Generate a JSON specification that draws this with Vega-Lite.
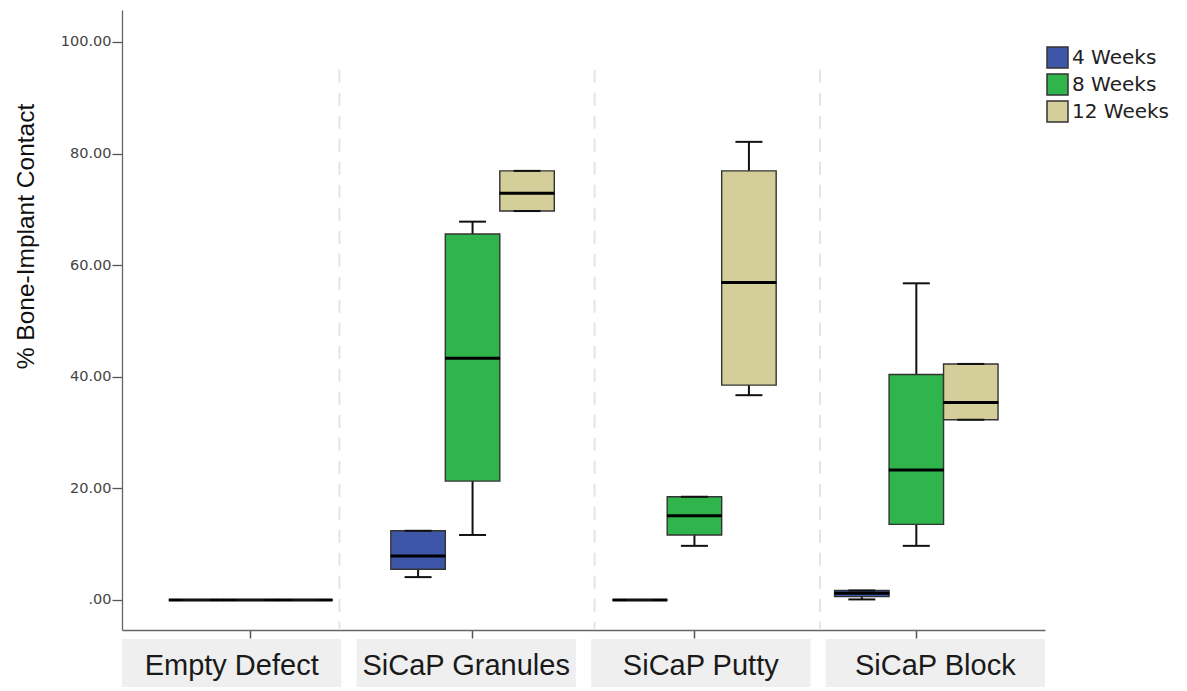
{
  "$schema": "https://vega.github.io/schema/vega-lite/v6.json",
  "width": 923,
  "height": 620,
  "autosize": {"type": "none"},
  "padding": {"left": 122, "top": 10, "right": 142, "bottom": 61},
  "background": "white",
  "config": {
    "view": {"stroke": null},
    "axis": {"grid": false}
  },
  "datasets": {
    "boxes": [
      {"group": "Empty Defect", "week": "4 Weeks", "low": 0, "q1": 0, "median": 0, "q3": 0, "high": 0},
      {"group": "Empty Defect", "week": "8 Weeks", "low": 0, "q1": 0, "median": 0, "q3": 0, "high": 0},
      {"group": "Empty Defect", "week": "12 Weeks", "low": 0, "q1": 0, "median": 0, "q3": 0, "high": 0},
      {"group": "SiCaP Granules", "week": "4 Weeks", "low": 4.1, "q1": 5.5, "median": 7.9, "q3": 12.4, "high": 12.4},
      {"group": "SiCaP Granules", "week": "8 Weeks", "low": 11.65, "q1": 21.3, "median": 43.3, "q3": 65.6, "high": 67.8},
      {"group": "SiCaP Granules", "week": "12 Weeks", "low": 69.7, "q1": 69.7, "median": 72.9, "q3": 76.9, "high": 76.9},
      {"group": "SiCaP Putty", "week": "4 Weeks", "low": 0, "q1": 0, "median": 0, "q3": 0, "high": 0},
      {"group": "SiCaP Putty", "week": "8 Weeks", "low": 9.7, "q1": 11.65, "median": 15.1, "q3": 18.5, "high": 18.5},
      {"group": "SiCaP Putty", "week": "12 Weeks", "low": 36.7, "q1": 38.5, "median": 56.9, "q3": 76.9, "high": 82.1},
      {"group": "SiCaP Block", "week": "4 Weeks", "low": 0.1, "q1": 0.6, "median": 1.2, "q3": 1.7, "high": 1.7},
      {"group": "SiCaP Block", "week": "8 Weeks", "low": 9.7, "q1": 13.55, "median": 23.3, "q3": 40.4, "high": 56.75},
      {"group": "SiCaP Block", "week": "12 Weeks", "low": 32.3, "q1": 32.3, "median": 35.4, "q3": 42.3, "high": 42.3}
    ],
    "labels": [
      {"group": "Empty Defect"},
      {"group": "SiCaP Granules"},
      {"group": "SiCaP Putty"},
      {"group": "SiCaP Block"}
    ]
  },
  "layer": [
    {
      "layer": [
        {
          "data": {"name": "boxes"},
          "encoding": {
            "x": {
              "field": "group",
              "type": "nominal",
              "sort": ["Empty Defect", "SiCaP Granules", "SiCaP Putty", "SiCaP Block"],
              "scale": {"domain": ["Empty Defect", "SiCaP Granules", "SiCaP Putty", "SiCaP Block"], "paddingInner": 0, "paddingOuter": 0.08},
              "axis": {"labels": false, "title": null, "tickSize": 8, "tickColor": "#555", "tickWidth": 1.5, "domainColor": "#666", "domainWidth": 1.3}
            },
            "xOffset": {
              "field": "week",
              "type": "nominal",
              "sort": ["4 Weeks", "8 Weeks", "12 Weeks"],
              "scale": {"domain": ["4 Weeks", "8 Weeks", "12 Weeks"], "paddingInner": 0, "paddingOuter": 0.536}
            }
          },
          "layer": [
            {
              "mark": {"type": "rule", "color": "#111", "strokeWidth": 2},
              "encoding": {
                "y": {
                  "field": "low",
                  "type": "quantitative",
                  "scale": {"domain": [-5.38, 105.73], "nice": false, "zero": false},
                  "axis": {
                    "title": "% Bone-Implant Contact",
                    "values": [0, 20, 40, 60, 80, 100],
                    "labelExpr": "datum.value == 0 ? '.00' : format(datum.value, '.2f')",
                    "labelFont": "DejaVu Sans",
                    "labelFontSize": 14.5,
                    "labelColor": "#444",
                    "labelPadding": 1,
                    "tickSize": 10,
                    "tickColor": "#555",
                    "tickWidth": 1.3,
                    "domainColor": "#666",
                    "domainWidth": 1.3,
                    "titleFont": "Liberation Sans",
                    "titleFontSize": 24.5,
                    "titleFontWeight": "normal",
                    "titleColor": "#111",
                    "titleAngle": 270,
                    "titleAlign": "center",
                    "titleBaseline": "alphabetic",
                    "titleX": -89,
                    "titleY": 226
                  }
                },
                "y2": {"field": "high"}
              }
            },
            {
              "mark": {"type": "bar", "stroke": "#333", "strokeWidth": 1.4},
              "encoding": {
                "y": {"field": "q1", "type": "quantitative", "scale": {"domain": [-5.38, 105.73], "nice": false, "zero": false}},
                "y2": {"field": "q3"},
                "fill": {
                  "field": "week",
                  "type": "nominal",
                  "sort": ["4 Weeks", "8 Weeks", "12 Weeks"],
                  "scale": {"domain": ["4 Weeks", "8 Weeks", "12 Weeks"], "range": ["#3d56a8", "#2fb54b", "#d4cf9a"]},
                  "legend": {
                    "title": null,
                    "orient": "none",
                    "legendX": 924,
                    "legendY": 36,
                    "padding": 0,
                    "symbolType": "square",
                    "symbolSize": 441,
                    "symbolStrokeColor": "#333",
                    "symbolStrokeWidth": 1.5,
                    "symbolFillOpacity": 1,
                    "labelFont": "DejaVu Sans",
                    "labelFontSize": 20,
                    "labelColor": "#222",
                    "labelOffset": 3,
                    "rowPadding": 0
                  }
                }
              }
            },
            {
              "mark": {"type": "tick", "color": "#000", "size": 55, "thickness": 3, "opacity": 1},
              "encoding": {
                "y": {"field": "median", "type": "quantitative", "scale": {"domain": [-5.38, 105.73], "nice": false, "zero": false}}
              }
            },
            {
              "mark": {"type": "tick", "color": "#111", "size": 27, "thickness": 2, "opacity": 1},
              "encoding": {
                "y": {"field": "low", "type": "quantitative", "scale": {"domain": [-5.38, 105.73], "nice": false, "zero": false}}
              }
            },
            {
              "mark": {"type": "tick", "color": "#111", "size": 27, "thickness": 2, "opacity": 1},
              "encoding": {
                "y": {"field": "high", "type": "quantitative", "scale": {"domain": [-5.38, 105.73], "nice": false, "zero": false}}
              }
            }
          ]
        },
        {
          "data": {"values": [{}]},
          "mark": {"type": "rule", "color": "#e4e4e4", "strokeWidth": 2, "strokeDash": [13, 10]},
          "encoding": {
            "x": {"datum": "Empty Defect", "type": "nominal", "bandPosition": 0.9},
            "y": {"datum": 95, "type": "quantitative", "scale": {"domain": [-5.38, 105.73], "nice": false, "zero": false}},
            "y2": {"datum": -5.38}
          }
        },
        {
          "data": {"values": [{}]},
          "mark": {"type": "rule", "color": "#e4e4e4", "strokeWidth": 2, "strokeDash": [13, 10]},
          "encoding": {
            "x": {"datum": "SiCaP Putty", "type": "nominal", "bandPosition": 0.05},
            "y": {"datum": 95, "type": "quantitative", "scale": {"domain": [-5.38, 105.73], "nice": false, "zero": false}},
            "y2": {"datum": -5.38}
          }
        },
        {
          "data": {"values": [{}]},
          "mark": {"type": "rule", "color": "#e4e4e4", "strokeWidth": 2, "strokeDash": [13, 10]},
          "encoding": {
            "x": {"datum": "SiCaP Block", "type": "nominal", "bandPosition": 0.066},
            "y": {"datum": 95, "type": "quantitative", "scale": {"domain": [-5.38, 105.73], "nice": false, "zero": false}},
            "y2": {"datum": -5.38}
          }
        }
      ]
    },
    {
      "data": {"name": "labels"},
      "encoding": {
        "x": {
          "field": "group",
          "type": "nominal",
          "sort": ["Empty Defect", "SiCaP Granules", "SiCaP Putty", "SiCaP Block"],
          "scale": {"type": "band", "domain": ["Empty Defect", "SiCaP Granules", "SiCaP Putty", "SiCaP Block"], "paddingInner": 0.065, "paddingOuter": 0},
          "axis": null
        }
      },
      "layer": [
        {
          "mark": {"type": "rect", "color": "#efefef"},
          "encoding": {
            "y": {"datum": -6.99, "type": "quantitative", "scale": {"domain": [-5.38, 105.73], "nice": false, "zero": false}},
            "y2": {"datum": -15.6}
          }
        },
        {
          "mark": {"type": "text", "font": "Liberation Sans", "fontSize": 29, "color": "#1a1a1a", "baseline": "alphabetic", "align": "center"},
          "encoding": {
            "y": {"datum": -13.44, "type": "quantitative", "scale": {"domain": [-5.38, 105.73], "nice": false, "zero": false}},
            "text": {"field": "group"}
          }
        }
      ]
    }
  ],
  "resolve": {"scale": {"x": "independent"}}
}
